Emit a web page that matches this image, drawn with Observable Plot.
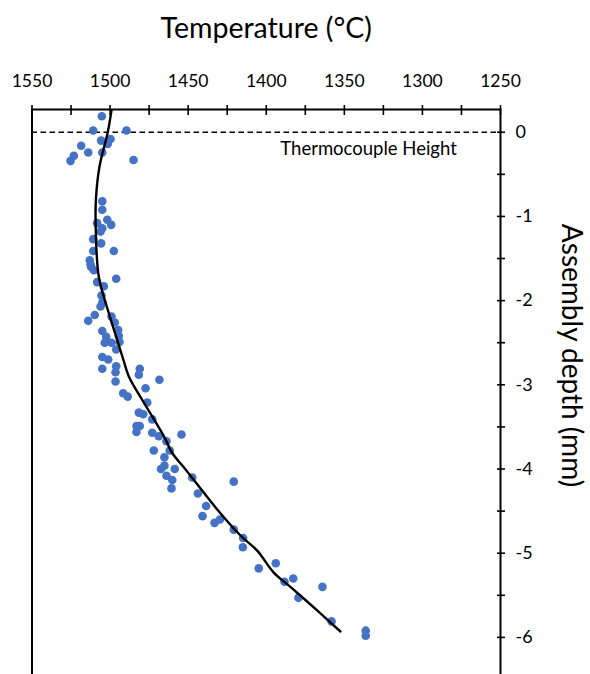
<!DOCTYPE html>
<html>
<head>
<meta charset="utf-8">
<script src="https://cdn.jsdelivr.net/npm/d3@7"></script>
<script src="https://cdn.jsdelivr.net/npm/@observablehq/plot@0.6"></script>
<style>
  html, body { margin: 0; padding: 0; background: #fff; }
  #chart { width: 590px; height: 674px; overflow: hidden; }
</style>
</head>
<body>
<div id="chart"></div>
<script>
// Measured temperatures (°C) and depths (mm)
const measTemp = [
  1505.3, 1510.8, 1489.5, 1505.7, 1499.7, 1501.5, 1518.5, 1514.0, 1505.0, 1523.2, 1525.3, 1485.0,
  1505.0, 1505.0, 1501.8, 1499.3, 1508.3, 1505.0, 1506.1, 1510.8, 1505.7, 1497.6, 1510.8,
  1513.0, 1512.5, 1512.1, 1510.4, 1508.3, 1496.1, 1504.0, 1505.5, 1504.9, 1506.1,
  1509.8, 1514.0, 1499.1, 1497.0, 1505.0, 1494.8, 1502.5, 1494.4, 1503.4, 1499.1, 1494.0,
  1496.1, 1505.0, 1501.2, 1505.0, 1496.1, 1496.5, 1481.0, 1481.6, 1496.5, 1468.4,
  1491.6, 1488.7, 1477.3, 1476.2, 1481.6, 1478.8, 1473.0, 1483.1, 1481.0, 1483.1, 1473.0,
  1468.8, 1454.3, 1463.9, 1472.0, 1461.8, 1465.2, 1465.2, 1467.4, 1458.6, 1463.9, 1460.2,
  1460.7, 1447.4, 1420.8, 1443.8, 1438.5, 1440.8, 1429.7, 1433.1, 1420.8, 1414.8, 1415.0,
  1404.8, 1393.9, 1388.3, 1382.7, 1364.0, 1379.4, 1358.2, 1336.3, 1336.3
];
const measDepth = [
  0.19, 0.02, 0.02, -0.10, -0.08, -0.14, -0.16, -0.24, -0.24, -0.28, -0.34, -0.33,
  -0.82, -0.92, -1.04, -1.10, -1.08, -1.14, -1.18, -1.27, -1.32, -1.41, -1.41,
  -1.52, -1.57, -1.60, -1.64, -1.78, -1.74, -1.83, -1.94, -2.02, -2.07,
  -2.17, -2.24, -2.19, -2.26, -2.36, -2.35, -2.43, -2.42, -2.50, -2.50, -2.49,
  -2.58, -2.67, -2.70, -2.81, -2.78, -2.85, -2.81, -2.88, -2.96, -2.94,
  -3.10, -3.14, -3.04, -3.21, -3.33, -3.35, -3.41, -3.49, -3.49, -3.56, -3.57,
  -3.61, -3.59, -3.67, -3.78, -3.78, -3.86, -3.96, -4.00, -4.00, -4.08, -4.13,
  -4.23, -4.10, -4.15, -4.29, -4.44, -4.56, -4.60, -4.64, -4.72, -4.82, -4.93,
  -5.18, -5.12, -5.34, -5.30, -5.40, -5.53, -5.81, -5.92, -5.98
];

// Fitted profile
const fitTemp  = [1499.1, 1501.5, 1506.8, 1509.1, 1509.1, 1507.2, 1500.8, 1495.4, 1491.2, 1488.0, 1478.4, 1465.6, 1460.2, 1452.8, 1448.5, 1431.4, 1416.5, 1405.8, 1395.2, 1384.5, 1367.4, 1352.5];
const fitDepth = [0.26, 0.0, -0.41, -0.81, -1.20, -1.72, -2.15, -2.47, -2.72, -2.90, -3.21, -3.61, -3.81, -3.98, -4.08, -4.48, -4.79, -4.97, -5.23, -5.40, -5.68, -5.93];

// Axes
const xMajor = [1550, 1500, 1450, 1400, 1350, 1300, 1250];
const xMinor = [1525, 1475, 1425, 1375, 1325, 1275];
const yMajor = [0, -1, -2, -3, -4, -5, -6];
const yMinor = [-0.5, -1.5, -2.5, -3.5, -4.5, -5.5, -6.5];
const xTitle = "Temperature (°C)";
const yTitle = "Assembly depth (mm)";

// Annotation
const thermoLabel = ["Thermocouple Height"];
const thermoDepth = [0];
const thermoLabelTemp = 1391;
const thermoLabelDepth = -0.2;

const points = measTemp.map((t, i) => ({t, d: measDepth[i]}));
const fit = fitTemp.map((t, i) => ({t, d: fitDepth[i]}));

const chart = Plot.plot({
  width: 590,
  height: 680,
  marginLeft: 31.5,
  marginRight: 90,
  marginTop: 109,
  marginBottom: 1,
  style: {fontFamily: "Lato, 'Open Sans', sans-serif", color: "#000", background: "#fff"},
  x: {domain: [1550, 1250], axis: null, label: null},
  y: {domain: [-6.5, 0.27], axis: null, label: null},
  marks: [
    // dashed thermocouple line
    Plot.ruleY(thermoDepth, {y: d => d, stroke: "#000", strokeWidth: 1.3, strokeDasharray: "5.5,3.5"}),
    Plot.text(thermoLabel, {x: () => thermoLabelTemp, y: () => thermoLabelDepth, text: d => d, textAnchor: "start", fontSize: 18.5, fill: "#000"}),
    // data
    Plot.dot(points, {x: "t", y: "d", r: 4.3, fill: "#4472C4", stroke: "none"}),
    Plot.line(fit, {x: "t", y: "d", stroke: "#000", strokeWidth: 2.4, curve: "catmull-rom"}),
    // frame
    Plot.frame({stroke: "#000", strokeWidth: 2}),
    // top axis ticks (crossing)
    Plot.axisX([...xMajor, ...xMinor], {anchor: "top", label: null, tickSize: 10, dy: 5, text: null, stroke: "#000", strokeWidth: 1.6}),
    Plot.axisX(xMajor, {anchor: "top", label: null, tickSize: 0, tickPadding: 23, fontSize: 17.5, tickFormat: d => String(d), fill: "#000"}),
    // right axis ticks (crossing)
    Plot.axisY([...yMajor, ...yMinor], {anchor: "right", label: null, tickSize: 8, dx: -4, text: null, stroke: "#000", strokeWidth: 1.6}),
    Plot.axisY(yMajor, {anchor: "right", label: null, tickSize: 0, tickPadding: 15, fontSize: 18, tickFormat: d => String(d), fill: "#000"}),
    // titles
    Plot.text([xTitle], {frameAnchor: "top", dy: -81, text: d => d, fontSize: 28.5, textAnchor: "middle", lineAnchor: "middle", fill: "#000"}),
    Plot.text([yTitle], {frameAnchor: "top-right", dx: 70, dy: 246, text: d => d, rotate: 90, fontSize: 28, textAnchor: "middle", lineAnchor: "middle", fill: "#000"})
  ]
});
document.getElementById("chart").appendChild(chart);
</script>
</body>
</html>
